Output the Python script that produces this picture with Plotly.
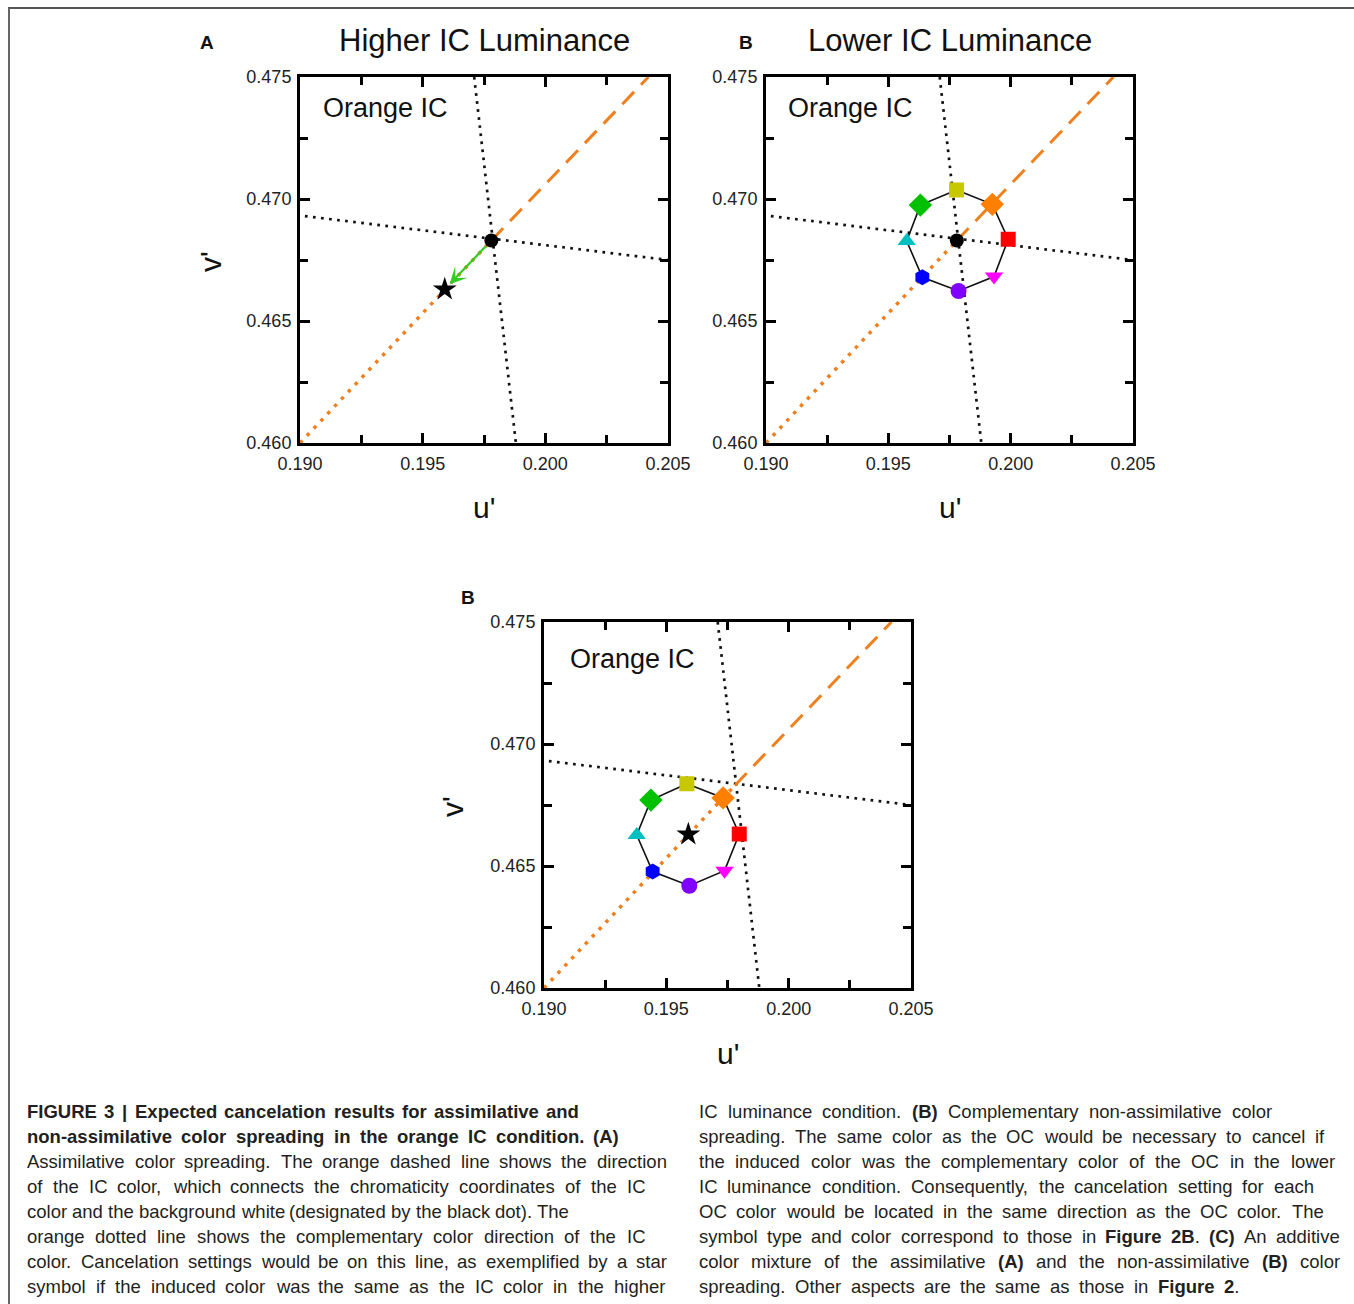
import plotly.graph_objects as go

W, H = 1354, 1304

# ---- data (CIE u'v' chromaticity) ----
white_u, white_v = 0.1978, 0.4683          # background white
star_u, star_v = 0.1959, 0.4663            # expected cancelation (assimilative)

# IC colour direction (dashed) and its complement (dotted)
ic_dir_u = [0.1978, 0.2042]
ic_dir_v = [0.4683, 0.4750]
comp_dir_u = [0.1900, 0.1978]
comp_dir_v = [0.4600, 0.4683]

# black dotted reference lines through the white point
ref_h_u = [0.1902, 0.2050]
ref_h_v = [0.4693, 0.4675]
ref_v_u = [0.1971, 0.1988]
ref_v_v = [0.4750, 0.4600]

# OC colours: symbols and colours
oc_symbols = ['square', 'diamond', 'square', 'triangle-down',
              'circle', 'hexagon', 'triangle-up', 'diamond']
oc_colors = ['#c8c800', '#ff8000', '#ff0000', '#ff00ff',
             '#8000ff', '#0000ff', '#00bfc0', '#00c000']
oc_sizes = [15, 18, 15, 16, 16, 16, 16, 18]

# panel B: non-assimilative settings
oc_b_u = [0.19779, 0.19925, 0.19990, 0.19932, 0.19787, 0.19639, 0.19575, 0.19631]
oc_b_v = [0.47037, 0.46978, 0.46835, 0.46682, 0.46623, 0.46679, 0.46828, 0.46975]

# panel C: additive mixture settings
oc_c_u = [0.19584, 0.19732, 0.19798, 0.19738, 0.19594, 0.19444, 0.19379, 0.19437]
oc_c_v = [0.46837, 0.46779, 0.46631, 0.46481, 0.46419, 0.46477, 0.46627, 0.46770]

x_ticks = [0.190, 0.195, 0.200, 0.205]
x_ticktext = ['0.190', '0.195', '0.200', '0.205']
y_ticks = [0.460, 0.465, 0.470, 0.475]
y_ticktext = ['0.460', '0.465', '0.470', '0.475']

ORANGE = '#f07f1e'
FONT = 'Liberation Sans, Arial, sans-serif'


def px_x(x):
    return x / W


def px_y(y):
    return 1 - y / H


# panel boxes in pixels: (left, right, top, bottom)
boxes = {
    '': (300, 668, 77, 443),
    '2': (766, 1133, 77, 443),
    '3': (544, 911, 622, 988),
}

fig = go.Figure()

for key, (l, r, t, b) in boxes.items():
    xa = 'x' + key
    ya = 'y' + key
    # dotted black reference lines
    for uu, vv in ((ref_h_u, ref_h_v), (ref_v_u, ref_v_v)):
        fig.add_trace(go.Scatter(x=uu, y=vv, mode='lines', xaxis=xa, yaxis=ya,
                                 line=dict(color='#111111', width=2.7, dash='2.7px,5.4px'),
                                 hoverinfo='skip', showlegend=False))
    # complementary direction (dotted orange)
    fig.add_trace(go.Scatter(x=comp_dir_u, y=comp_dir_v, mode='lines', xaxis=xa, yaxis=ya,
                             line=dict(color=ORANGE, width=3.5, dash='3.5px,6.5px'),
                             hoverinfo='skip', showlegend=False))
    # IC colour direction (dashed orange)
    fig.add_trace(go.Scatter(x=ic_dir_u, y=ic_dir_v, mode='lines', xaxis=xa, yaxis=ya,
                             line=dict(color=ORANGE, width=3, dash='17px,10px'),
                             hoverinfo='skip', showlegend=False))

# panel A: white point and star
fig.add_trace(go.Scatter(x=[white_u], y=[white_v], mode='markers', xaxis='x', yaxis='y',
                         marker=dict(color='black', size=14, opacity=1), showlegend=False))
fig.add_trace(go.Scatter(x=[star_u], y=[star_v], mode='markers', xaxis='x', yaxis='y',
                         marker=dict(color='black', size=18, symbol='star', opacity=1),
                         showlegend=False))

# panels B and C: OC settings joined in a closed loop
for key, uu, vv in (('2', oc_b_u, oc_b_v), ('3', oc_c_u, oc_c_v)):
    xa = 'x' + key
    ya = 'y' + key
    fig.add_trace(go.Scatter(x=uu + uu[:1], y=vv + vv[:1], mode='lines', xaxis=xa, yaxis=ya,
                             line=dict(color='#111111', width=1.6),
                             hoverinfo='skip', showlegend=False))
    fig.add_trace(go.Scatter(x=uu, y=vv, mode='markers', xaxis=xa, yaxis=ya,
                             marker=dict(symbol=oc_symbols, color=oc_colors, size=oc_sizes,
                                         opacity=1, line=dict(width=0)),
                             showlegend=False))

fig.add_trace(go.Scatter(x=[white_u], y=[white_v], mode='markers', xaxis='x2', yaxis='y2',
                         marker=dict(color='black', size=14, opacity=1), showlegend=False))
fig.add_trace(go.Scatter(x=[star_u], y=[star_v], mode='markers', xaxis='x3', yaxis='y3',
                         marker=dict(color='black', size=18, symbol='star', opacity=1),
                         showlegend=False))

layout_axes = {}
for key, (l, r, t, b) in boxes.items():
    n = key if key else ''
    common = dict(showline=True, linewidth=3, linecolor='black', mirror='ticks',
                  ticks='inside', ticklen=10, tickwidth=2.5, tickcolor='black',
                  showgrid=False, zeroline=False, fixedrange=True, automargin=False,
                  tickfont=dict(family=FONT, size=18, color='#222222'),
                  minor=dict(ticks='inside', ticklen=8, tickwidth=2.5, tickcolor='black',
                             showgrid=False))
    layout_axes['xaxis' + n] = dict(common, domain=[px_x(l), px_x(r)], range=[0.190, 0.205],
                                    anchor='y' + n, tickvals=x_ticks, ticktext=x_ticktext,
                                    ticklabelstandoff=2)
    layout_axes['yaxis' + n] = dict(common, domain=[px_y(b), px_y(t)], range=[0.460, 0.475],
                                    anchor='x' + n, tickvals=y_ticks, ticktext=y_ticktext,
                                    ticklabelstandoff=2)
    layout_axes['xaxis' + n]['minor'] = dict(common['minor'], tickvals=[0.1925, 0.1975, 0.2025])
    layout_axes['yaxis' + n]['minor'] = dict(common['minor'], tickvals=[0.4625, 0.4675, 0.4725])

fig.update_layout(template='none')
fig.update_layout(**layout_axes)

ann = []


def text(x, y, s, size, xanchor='center', angle=0, color='#111111'):
    ann.append(dict(x=px_x(x), y=px_y(y), xref='paper', yref='paper', text=s,
                    showarrow=False, xanchor=xanchor, yanchor='middle', textangle=angle,
                    font=dict(family=FONT, size=size, color=color)))


# panel titles and letters
text(484, 40, 'Higher IC Luminance', 31)
text(950, 40, 'Lower IC Luminance', 31)
text(207, 42, '<b>A</b>', 19)
text(746, 42, '<b>B</b>', 19)
text(468, 597, '<b>B</b>', 19)

# in-panel labels
text(321, 108, 'Orange IC', 27, xanchor='left')
text(786, 108, 'Orange IC', 27, xanchor='left')
text(568, 659, 'Orange IC', 27, xanchor='left')

# axis titles
for cx, cy in ((484, 508), (950, 508), (728, 1053)):
    text(cx, cy, "u'", 30)
for cx, cy in ((210, 262), (452, 806)):
    text(cx, cy, "v'", 30, angle=-90)

# arrow from the white point to the expected cancelation setting
ann.append(dict(x=star_u, y=star_v, ax=white_u, ay=white_v, xref='x', yref='y',
                axref='x', ayref='y', text='', showarrow=True, arrowhead=3,
                arrowsize=1.3, arrowwidth=2.2, arrowcolor='#33cc22',
                standoff=7, startstandoff=6))

# ---- figure caption, two justified columns ----
caption_left = [
    '<b>FIGURE 3 | Expected cancelation results for assimilative and</b>',
    '<b>non-assimilative color spreading in the orange IC condition. (A)</b>',
    'Assimilative color spreading. The orange dashed line shows the direction',
    'of the IC color, which connects the chromaticity coordinates of the IC',
    'color and the background white (designated by the black dot). The',
    'orange dotted line shows the complementary color direction of the IC',
    'color. Cancelation settings would be on this line, as exemplified by a star',
    'symbol if the induced color was the same as the IC color in the higher',
]
caption_right = [
    'IC luminance condition. <b>(B)</b> Complementary non-assimilative color',
    'spreading. The same color as the OC would be necessary to cancel if',
    'the induced color was the complementary color of the OC in the lower',
    'IC luminance condition. Consequently, the cancelation setting for each',
    'OC color would be located in the same direction as the OC color. The',
    'symbol type and color correspond to those in <b>Figure 2B</b>. <b>(C)</b> An additive',
    'color mixture of the assimilative <b>(A)</b> and the non-assimilative <b>(B)</b> color',
    'spreading. Other aspects are the same as those in <b>Figure 2</b>.',
]
left_edge, right_edges_left = 25, [577, 617, 665, 643, 563, 643, 665, 663]
col2_edge, right_edges_right = 697, [1270, 1322, 1333, 1312, 1322, 1338, 1338, 1237]

CAP_SIZE = 18.5
CAP_COLOR = '#231f20'

# advance widths (1/1000 em) of Liberation Sans regular / bold
_reg = dict(zip("abcdefghijklmnopqrstuvwxyz",
                [556, 556, 500, 556, 556, 278, 556, 556, 222, 222, 500, 222, 833,
                 556, 556, 556, 556, 333, 500, 278, 556, 500, 722, 500, 500, 500]))
_reg.update(zip("ABCDEFGHIJKLMNOPQRSTUVWXYZ",
                [667, 667, 722, 722, 667, 611, 778, 722, 278, 500, 667, 556, 833,
                 722, 778, 667, 778, 722, 667, 611, 722, 667, 944, 667, 667, 611]))
_bold = dict(zip("abcdefghijklmnopqrstuvwxyz",
                 [556, 611, 556, 611, 556, 333, 611, 611, 278, 278, 556, 278, 889,
                  611, 611, 611, 611, 389, 556, 333, 611, 556, 778, 556, 556, 500]))
_bold.update(zip("ABCDEFGHIJKLMNOPQRSTUVWXYZ",
                 [722, 722, 722, 722, 667, 611, 778, 722, 278, 556, 722, 611, 833,
                  722, 778, 667, 778, 722, 667, 611, 722, 667, 944, 667, 667, 611]))
for d in (_reg, _bold):
    d.update({c: 556 for c in "0123456789"})
    d.update({' ': 278, '(': 333, ')': 333, ',': 278, '.': 278, '-': 333, "'": 191})
_reg['|'] = 260
_bold['|'] = 280


def parse_words(line):
    """Split a caption line into words, each a list of (text, bold) runs."""
    words, runs, bold, buf = [], [], False, ''
    i = 0
    while i < len(line):
        if line.startswith('<b>', i):
            if buf:
                runs.append((buf, bold))
                buf = ''
            bold = True
            i += 3
        elif line.startswith('</b>', i):
            if buf:
                runs.append((buf, bold))
                buf = ''
            bold = False
            i += 4
        elif line[i] == ' ':
            if buf:
                runs.append((buf, bold))
                buf = ''
            if runs:
                words.append(runs)
            runs = []
            i += 1
        else:
            buf += line[i]
            i += 1
    if buf:
        runs.append((buf, bold))
    if runs:
        words.append(runs)
    return words


def run_width(runs, size):
    total = 0
    for s, b in runs:
        table = _bold if b else _reg
        total += sum(table.get(c, 556) for c in s)
    return total * size / 1000.0


def run_html(runs):
    return ''.join('<b>%s</b>' % s if b else s for s, b in runs)


def add_caption(lines, x0, x_right, y0):
    for i, line in enumerate(lines):
        words = parse_words(line)
        widths = [run_width(w, CAP_SIZE) for w in words]
        space = 278 * CAP_SIZE / 1000.0
        natural = sum(widths) + space * (len(words) - 1)
        gap = space
        if len(words) > 1 and x_right[i] - x0 > natural:
            gap = space + (x_right[i] - x0 - natural) / (len(words) - 1)
        x = x0
        y = y0 + 25 * i
        for w, wd in zip(words, widths):
            ann.append(dict(x=px_x(x), y=px_y(y), xref='paper', yref='paper',
                            text=run_html(w), showarrow=False, xanchor='left',
                            yanchor='middle',
                            font=dict(family=FONT, size=CAP_SIZE, color=CAP_COLOR)))
            x += wd + gap


add_caption(caption_left, left_edge, right_edges_left, 1111)
add_caption(caption_right, col2_edge, right_edges_right, 1111)

# frame lines along the top and left edges
shapes = [
    dict(type='line', xref='paper', yref='paper', x0=px_x(8), x1=1, y0=px_y(8), y1=px_y(8),
         line=dict(color='#555555', width=2)),
    dict(type='line', xref='paper', yref='paper', x0=px_x(9), x1=px_x(9), y0=px_y(8), y1=0,
         line=dict(color='#666666', width=2)),
]

fig.update_layout(width=W, height=H, margin=dict(l=0, r=0, t=0, b=0, pad=0),
                  paper_bgcolor='white', plot_bgcolor='white', autosize=False,
                  annotations=ann, shapes=shapes, showlegend=False)

fig.write_html('out.html', config={'responsive': False})
